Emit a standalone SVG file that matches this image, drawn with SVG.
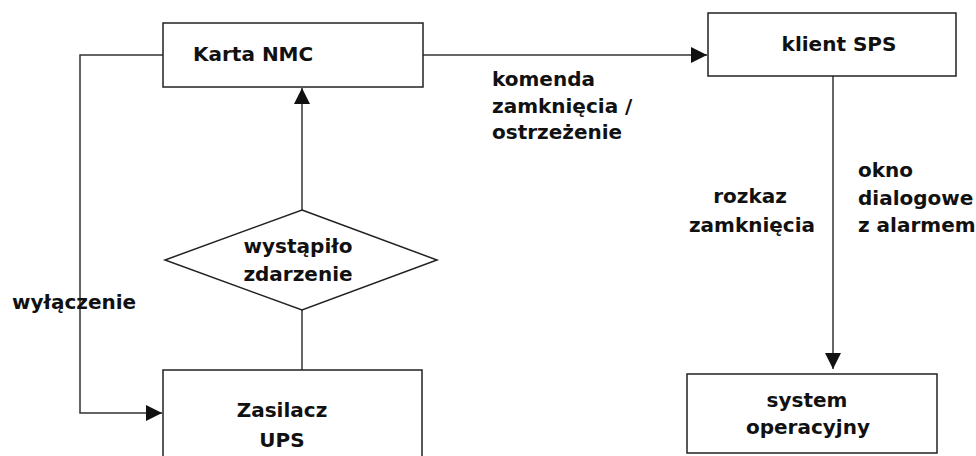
<svg xmlns="http://www.w3.org/2000/svg" width="976" height="456" viewBox="0 0 976 456">
  <style>
    .box { fill: #ffffff; stroke: #222222; stroke-width: 1.5; }
    .edge { fill: none; stroke: #333333; stroke-width: 1.5; }
    .t { font-family: "DejaVu Sans", "Liberation Sans", sans-serif; font-size: 20px; font-weight: bold; fill: #111111; }
    .c { text-anchor: middle; }
  </style>
  <defs>
    <marker id="arr" markerUnits="userSpaceOnUse" markerWidth="16" markerHeight="16" viewBox="0 0 14 14" refX="14" refY="7" orient="auto">
      <path d="M0,0 L14,7 L0,14 Z" fill="#111111"/>
    </marker>
  </defs>
  <rect width="976" height="456" fill="#ffffff"/>

  <g id="connectors">
    <polyline class="edge" points="163,55 80,55 80,413 162,413" marker-end="url(#arr)"/>
    <line class="edge" x1="423" y1="55" x2="707" y2="55" marker-end="url(#arr)"/>
    <line class="edge" x1="302" y1="210" x2="302" y2="88" marker-end="url(#arr)"/>
    <line class="edge" x1="302" y1="310" x2="302" y2="370"/>
    <line class="edge" x1="833" y1="76" x2="833" y2="369" marker-end="url(#arr)"/>
  </g>

  <g id="karta-nmc">
    <rect class="box" x="163" y="23" width="260" height="64"/>
    <text class="t" x="193" y="61">Karta NMC</text>
  </g>

  <g id="klient-sps">
    <rect class="box" x="708" y="13" width="248" height="63"/>
    <text class="t c" x="839" y="51">klient SPS</text>
  </g>

  <g id="wystapilo-zdarzenie">
    <polygon class="box" points="302,210 437,260 302,310 165,260"/>
    <text class="t c" x="298" y="253">wystąpiło</text>
    <text class="t c" x="298" y="281">zdarzenie</text>
  </g>

  <g id="zasilacz-ups">
    <rect class="box" x="163" y="370" width="259" height="100"/>
    <text class="t c" x="282" y="417">Zasilacz</text>
    <text class="t c" x="282" y="447">UPS</text>
  </g>

  <g id="system-operacyjny">
    <rect class="box" x="687" y="374" width="250" height="79"/>
    <text class="t c" x="807" y="407">system</text>
    <text class="t c" x="808" y="434">operacyjny</text>
  </g>

  <g id="labels">
    <text class="t" x="12" y="309">wyłączenie</text>
    <text class="t" x="492" y="86">komenda</text>
    <text class="t" x="492" y="113">zamknięcia /</text>
    <text class="t" x="492" y="139">ostrzeżenie</text>
    <text class="t c" x="750" y="203">rozkaz</text>
    <text class="t c" x="752" y="232">zamknięcia</text>
    <text class="t" x="858" y="177">okno</text>
    <text class="t" x="858" y="205">dialogowe</text>
    <text class="t" x="858" y="232">z alarmem</text>
  </g>
</svg>
